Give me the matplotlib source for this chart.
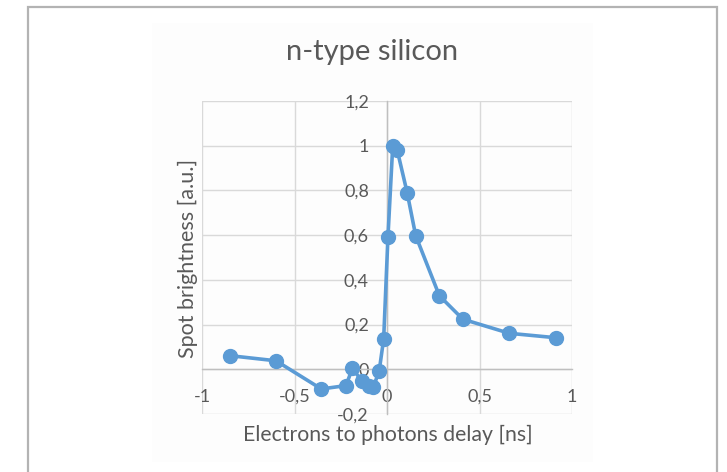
import matplotlib
matplotlib.use("Agg")
import matplotlib.pyplot as plt
from matplotlib.patches import Rectangle
from matplotlib.ticker import FixedLocator, FuncFormatter

plt.rcParams['font.family'] = ['Lato', 'DejaVu Sans']

# Delay between electron and photon pulses [ns] and measured spot brightness
delay_ns = [-0.85, -0.60, -0.355, -0.222, -0.187, -0.137, -0.10, -0.073, -0.042,
            -0.018, 0.005, 0.031, 0.055, 0.109, 0.155, 0.283, 0.41, 0.661, 0.915]
brightness = [0.061, 0.038, -0.088, -0.073, 0.004, -0.051, -0.073, -0.078, -0.006,
              0.136, 0.59, 1.0, 0.981, 0.79, 0.598, 0.329, 0.224, 0.161, 0.141]

x_ticks = [-1, -0.5, 0, 0.5, 1]
y_ticks = [-0.2, 0, 0.2, 0.4, 0.6, 0.8, 1.0, 1.2]

title = "n-type silicon"
x_label = "Electrons to photons delay [ns]"
y_label = "Spot brightness [a.u.]"

W, H = 727, 472
fig = plt.figure(figsize=(W / 100, H / 100), dpi=100)
fig.patch.set_facecolor('white')

# outer frame around the figure
fig.add_artist(Rectangle((28 / W, -0.05), (717 - 28) / W, 1.05 - 7.5 / H,
                         transform=fig.transFigure, fill=False,
                         edgecolor='#b3b3b3', linewidth=1.6))
# faint chart-area background
fig.add_artist(Rectangle((152 / W, (H - 462) / H), (593 - 152) / W, (462 - 23) / H,
                         transform=fig.transFigure, facecolor='#fdfdfd',
                         edgecolor='none', zorder=0))

ax = fig.add_axes([202 / W, (H - 414) / H, (572 - 202) / W, (414 - 101) / H])
ax.set_facecolor('none')
ax.set_xlim(-1, 1)
ax.set_ylim(-0.2, 1.2)

grid_c = '#d9d9d9'
ax.xaxis.set_major_locator(FixedLocator(x_ticks))
ax.yaxis.set_major_locator(FixedLocator(y_ticks))
ax.grid(True, color=grid_c, linewidth=1.0, zorder=0)

def comma(v, _pos):
    s = f"{v:g}"
    return s.replace('.', ',')

ax.xaxis.set_major_formatter(FuncFormatter(comma))
ax.yaxis.set_major_formatter(FuncFormatter(comma))

for side in ('top', 'right'):
    ax.spines[side].set_visible(False)
ax.spines['left'].set_position(('data', 0))
ax.spines['bottom'].set_position(('data', 0))
ax.spines['left'].set_color('#bfbfbf')
ax.spines['bottom'].set_color('#bfbfbf')
ax.spines['left'].set_linewidth(1.0)
ax.spines['bottom'].set_linewidth(1.0)

ax.tick_params(axis='both', length=0, labelsize=13, labelcolor='#595959')
ax.tick_params(axis='y', pad=13)
ax.tick_params(axis='x', pad=14)

ax.plot(delay_ns, brightness, color='#5b9bd5', linewidth=2.6, marker='o',
        markersize=10, markerfacecolor='#5b9bd5', markeredgecolor='#5b9bd5',
        zorder=3, clip_on=False)

fig.text(372 / W, (H - 52) / H, title, ha='center', va='center',
         fontsize=21, color='#595959')
fig.text(388 / W, (H - 435) / H, x_label, ha='center', va='center',
         fontsize=15.3, color='#595959')
fig.text(188 / W, (H - 258) / H, y_label, ha='center', va='center',
         rotation=90, fontsize=15.5, color='#595959')

fig.savefig('out.png', dpi=100)
